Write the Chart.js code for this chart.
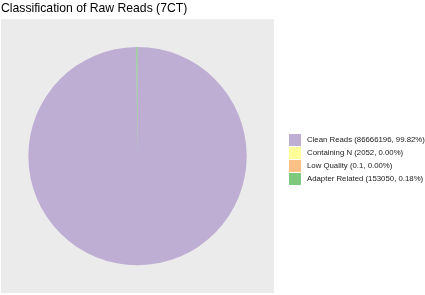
<!DOCTYPE html>
<html>
<head>
  <meta charset="UTF-8">
  <title>Classification of Raw Reads (7CT)</title>
  <script src="https://cdn.jsdelivr.net/npm/chart.js"></script>
  <style>
    body {
      margin: 0;
      background: white;
      font-family: "Liberation Sans", Arial, sans-serif;
    }
    #wrap {
      position: relative;
      width: 425px;
      height: 295px;
    }
    #legend {
      position: absolute;
      left: 289px;
      top: 133px;
      font-size: 7.8px;
      color: #1a1a1a;
    }
    .row {
      display: flex;
      align-items: center;
      height: 13px;
    }
    .key {
      width: 12px;
      height: 12px;
      margin-right: 6px;
    }
  </style>
</head>
<body>

  <div id="wrap">
    <canvas id="pie" width="425" height="295"></canvas>
    <div id="legend"></div>
  </div>

  <script>
    const titleText = "Classification of Raw Reads (7CT)";
    const categories = ["Clean Reads", "Containing N", "Low Quality", "Adapter Related"];
    const readCounts = [86666196, 2052, 0.1, 153050];
    const colors = ["#BEAED4", "#FFFF99", "#FDC086", "#7FC97F"];

    const total = readCounts.reduce((a, b) => a + b, 0);

    // legend rows: name (count, percent)
    document.getElementById("legend").innerHTML = categories.map((name, i) => {
      const pct = (readCounts[i] / total * 100).toFixed(2);
      return `<div class="row"><div class="key" style="background:${colors[i]}"></div>` +
             `<span>${name} (${readCounts[i]}, ${pct}%)</span></div>`;
    }).join("");

    // grey ggplot-style panel behind the pie
    const panelBg = {
      id: "panelBg",
      beforeDraw(chart) {
        const { ctx, chartArea } = chart;
        ctx.save();
        ctx.fillStyle = "white";
        ctx.fillRect(0, 0, chart.width, chart.height);
        ctx.fillStyle = "#EBEBEB";
        ctx.fillRect(chartArea.left, chartArea.top,
                     chartArea.right - chartArea.left, chartArea.bottom - chartArea.top);
        ctx.restore();
      }
    };

    new Chart(document.getElementById("pie"), {
      type: "pie",
      data: {
        labels: categories,
        datasets: [{
          data: readCounts,
          backgroundColor: colors,
          borderWidth: 0,
          radius: "80%"
        }]
      },
      options: {
        responsive: false,
        animation: false,
        layout: {
          padding: { left: 1, right: 151, top: 0, bottom: 2 }
        },
        plugins: {
          legend: { display: false },
          tooltip: { enabled: false },
          title: {
            display: true,
            text: titleText,
            align: "start",
            color: "#000",
            font: { family: "'Liberation Sans', Arial, sans-serif", size: 12.2, weight: "normal", lineHeight: 1 },
            padding: { top: 3, bottom: 4 }
          }
        }
      },
      plugins: [panelBg]
    });
  </script>

</body>
</html>
